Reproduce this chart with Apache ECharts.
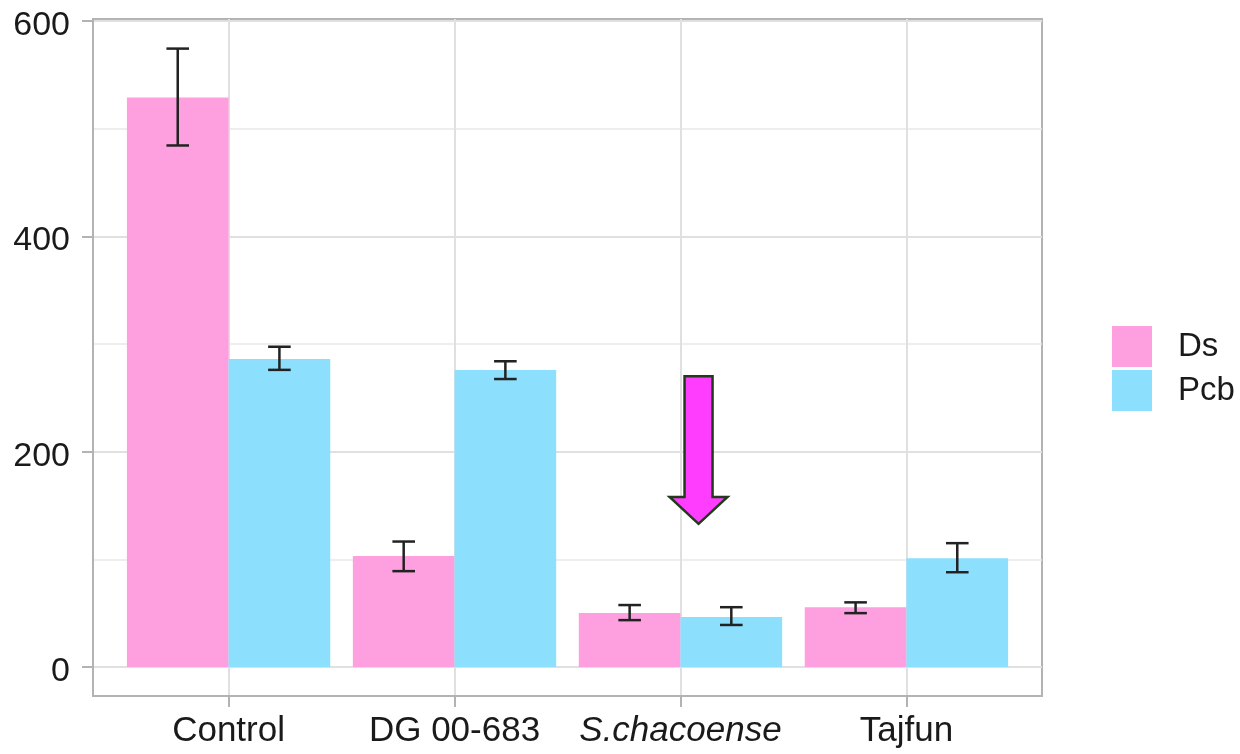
<!DOCTYPE html>
<html>
<head>
<meta charset="utf-8">
<script src="https://cdn.jsdelivr.net/npm/echarts@6/dist/echarts.min.js"></script>
<style>
  html, body { margin: 0; padding: 0; background: #ffffff; }
  #chart { width: 1240px; height: 754px; }
</style>
</head>
<body>
<div id="chart"></div>
<script>
// ---- data ----
const CATEGORIES = ['Control', 'DG 00-683', 'S.chacoense', 'Tajfun'];
const ITALIC_CATEGORIES = ['S.chacoense'];
const SERIES_NAMES = ['Ds', 'Pcb'];
const DS_MEAN = [529, 103, 50, 55.5];
const DS_LOW = [484.5, 89, 43.5, 50];
const DS_HIGH = [574.5, 116.5, 57.5, 60];
const PCB_MEAN = [286, 276, 46.5, 101];
const PCB_LOW = [276, 267.5, 39, 88];
const PCB_HIGH = [297.5, 284, 55.5, 115];
const Y_TICKS = [0, 200, 400, 600];
const Y_MINOR = [100, 300, 500];
const Y_MIN = -27;
const Y_MAX = 602;
// annotation arrow: category, shaft top value, head base value, tip value
const ARROW_CATEGORY = 'S.chacoense';
const ARROW_VALUES = [270, 158, 133];

// ---- layout / style ----
const FONT = "'Liberation Sans', Arial, Helvetica, sans-serif";
const TEXT = '#1a1a1a';
const COL_DS = '#FEA0DF';
const COL_PCB = '#8CE0FD';
const GREY = '#b3b3b3';
const PANEL = { left: 93, right: 1042, top: 19, bottom: 696 };
const W = 1240, H = 754;
const band = (PANEL.right - PANEL.left) / (CATEGORIES.length + 0.2);
const innerLeft = PANEL.left + 0.1 * band;
const innerRight = PANEL.right - 0.1 * band;

const chart = echarts.init(document.getElementById('chart'), null, { renderer: 'canvas' });

function errData(low, high) {
  return CATEGORIES.map((c, i) => [i, low[i], high[i]]);
}
function errSeries(name, low, high, offset) {
  return {
    type: 'custom', name: name + ' err', xAxisIndex: 1, yAxisIndex: 1, z: 11, silent: true,
    data: errData(low, high),
    encode: { x: 0, y: [1, 2] },
    renderItem: function (params, api) {
      const bw = api.size([1, 0])[0];
      const p1 = api.coord([api.value(0), api.value(1)]);
      const p2 = api.coord([api.value(0), api.value(2)]);
      const x = p1[0] + offset * bw;
      const hw = 0.05 * bw;
      const st = { stroke: '#222222', lineWidth: 2.5 };
      return {
        type: 'group',
        children: [
          { type: 'line', shape: { x1: x, y1: p1[1], x2: x, y2: p2[1] }, style: st },
          { type: 'line', shape: { x1: x - hw, y1: p1[1], x2: x + hw, y2: p1[1] }, style: st },
          { type: 'line', shape: { x1: x - hw, y1: p2[1], x2: x + hw, y2: p2[1] }, style: st }
        ]
      };
    }
  };
}

const hLines = Y_TICKS.map(v => ({ yAxis: v, lineStyle: { width: 2, color: '#e0e0e0', type: 'solid' } }))
  .concat(Y_MINOR.map(v => ({ yAxis: v, lineStyle: { width: 1.5, color: '#e8e8e8', type: 'solid' } })));
const vLines = CATEGORIES.map(c => ({ xAxis: c, lineStyle: { width: 2, color: '#e0e0e0', type: 'solid' } }));

const option = {
  animation: false,
  backgroundColor: '#ffffff',
  textStyle: { fontFamily: FONT },
  grid: [
    { left: PANEL.left, right: W - PANEL.right, top: PANEL.top, bottom: H - PANEL.bottom,
      show: true, borderColor: GREY, borderWidth: 2, backgroundColor: 'transparent', z: 0 },
    { left: innerLeft, right: W - innerRight, top: PANEL.top, bottom: H - PANEL.bottom, z: 0 }
  ],
  xAxis: [
    { gridIndex: 0, type: 'value', min: -0.6, max: CATEGORIES.length - 0.4, show: false },
    { gridIndex: 1, type: 'category', data: CATEGORIES, z: 20,
      axisLine: { show: true, onZero: false, lineStyle: { color: GREY, width: 2 } },
      axisTick: { show: true, inside: false, alignWithLabel: true, length: 11, lineStyle: { color: GREY, width: 2 } },
      splitLine: { show: false },
      axisLabel: {
        interval: 0, margin: 18, fontSize: 35, color: TEXT, fontFamily: FONT,
        formatter: v => ITALIC_CATEGORIES.indexOf(v) >= 0 ? '{i|' + v + '}' : v,
        rich: { i: { fontStyle: 'italic', fontSize: 35, color: TEXT, fontFamily: FONT } }
      }
    }
  ],
  yAxis: [
    { gridIndex: 0, type: 'value', min: Y_MIN, max: Y_MAX, z: 20,
      axisLine: { show: true, onZero: false, lineStyle: { color: GREY, width: 2 } },
      axisTick: { show: true, inside: false, length: 11, customValues: Y_TICKS, lineStyle: { color: GREY, width: 2 } },
      axisLabel: { customValues: Y_TICKS, margin: 23, color: TEXT, fontFamily: FONT,
        formatter: v => '{a|' + v + '}',
        rich: { a: { fontSize: 34, color: TEXT, fontFamily: FONT, padding: [9, 0, 0, 0] } } },
      splitLine: { show: false }
    },
    { gridIndex: 1, type: 'value', min: Y_MIN, max: Y_MAX, show: false, splitLine: { show: false } }
  ],
  legend: {
    orient: 'vertical', left: 1112, top: 326, padding: 0,
    itemWidth: 40, itemHeight: 41, itemGap: 3, icon: 'rect',
    data: SERIES_NAMES,
    textStyle: { fontSize: 33, color: TEXT, fontFamily: FONT, padding: [0, 0, 0, 21] },
    selectedMode: false
  },
  series: [
    { type: 'line', name: 'hgrid', xAxisIndex: 0, yAxisIndex: 0, data: [], silent: true, z: 1,
      markLine: { silent: true, symbol: 'none', z: 1, label: { show: false }, animation: false,
        emphasis: { disabled: true }, data: hLines } },
    { type: 'line', name: 'vgrid', xAxisIndex: 1, yAxisIndex: 1, data: [], silent: true, z: 1,
      markLine: { silent: true, symbol: 'none', z: 1, label: { show: false }, animation: false,
        emphasis: { disabled: true }, data: vLines } },
    { type: 'bar', name: SERIES_NAMES[0], xAxisIndex: 1, yAxisIndex: 1, data: DS_MEAN, z: 10,
      barGap: '0%', barCategoryGap: '10%', itemStyle: { color: COL_DS } },
    { type: 'bar', name: SERIES_NAMES[1], xAxisIndex: 1, yAxisIndex: 1, data: PCB_MEAN, z: 10,
      barGap: '0%', barCategoryGap: '10%', itemStyle: { color: COL_PCB } },
    errSeries('Ds', DS_LOW, DS_HIGH, -0.225),
    errSeries('Pcb', PCB_LOW, PCB_HIGH, 0.225),
    {
      type: 'custom', name: 'arrow', xAxisIndex: 1, yAxisIndex: 1, z: 12, silent: true,
      data: [[CATEGORIES.indexOf(ARROW_CATEGORY)].concat(ARROW_VALUES)],
      encode: { x: 0, y: [1, 2, 3] },
      renderItem: function (params, api) {
        const bw = api.size([1, 0])[0];
        const i = api.value(0);
        const top = api.coord([i, api.value(1)]);
        const base = api.coord([i, api.value(2)]);
        const tip = api.coord([i, api.value(3)]);
        const cx = top[0] + 0.08 * bw;
        const sw = 0.062 * bw, hw = 0.128 * bw;
        return {
          type: 'polygon',
          shape: { points: [
            [cx - sw, top[1]], [cx + sw, top[1]], [cx + sw, base[1]], [cx + hw, base[1]],
            [cx, tip[1]], [cx - hw, base[1]], [cx - sw, base[1]]
          ] },
          style: { fill: '#FF3DFF', stroke: '#22391c', lineWidth: 2.5, lineJoin: 'miter' }
        };
      }
    }
  ]
};
chart.setOption(option);
</script>
</body>
</html>
